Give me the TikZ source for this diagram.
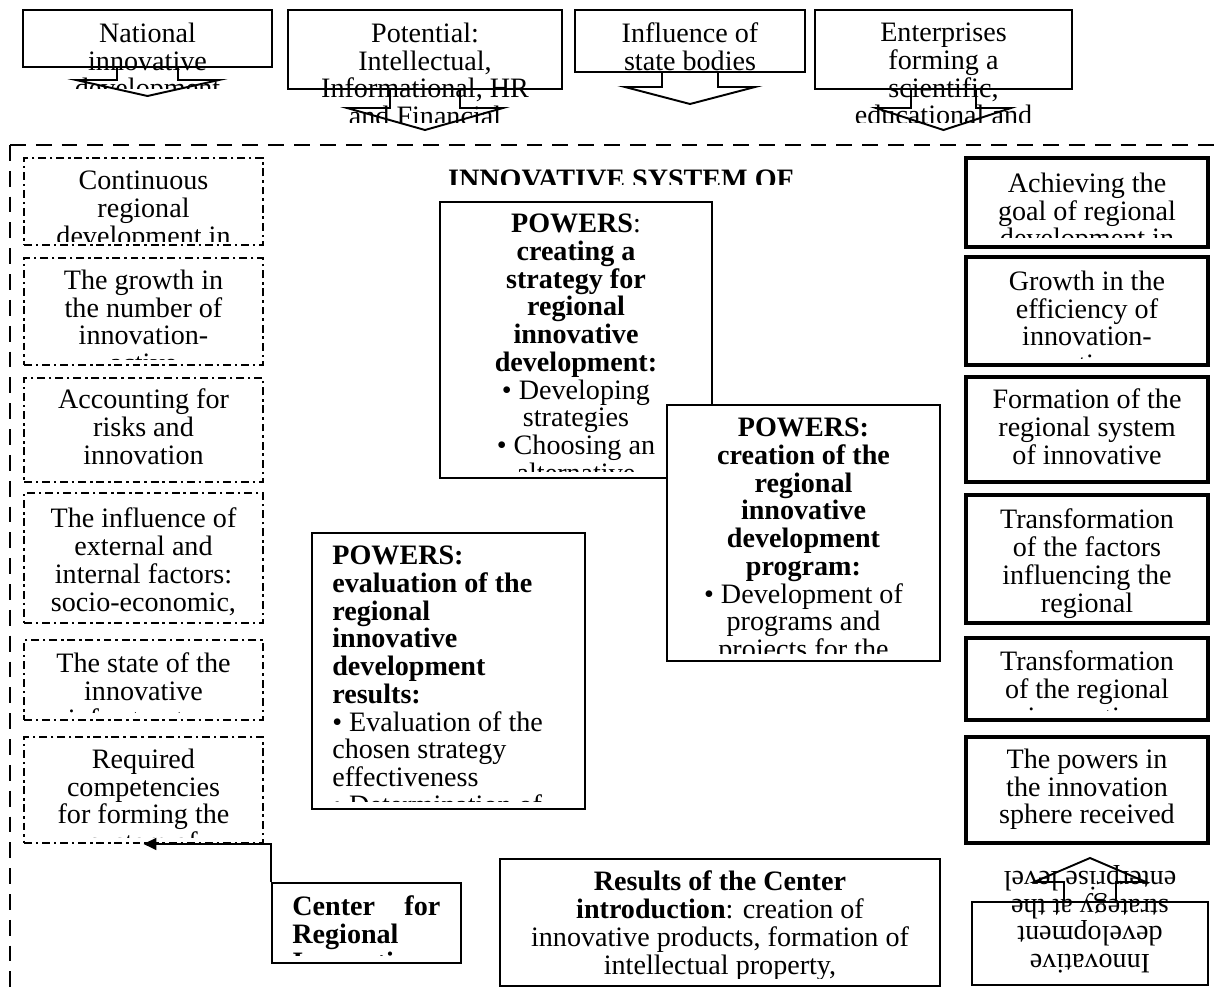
\documentclass[tikz,border=0pt]{standalone}
\usepackage{fontspec}
\setmainfont{Liberation Serif}
\usetikzlibrary{fit,arrows.meta}
\tikzset{
  plainbox/.style={draw,line width=1.1pt,inner sep=0pt},
  factorbox/.style={plainbox,dash pattern=on 4.5pt off 2.2pt on 1.4pt off 2.2pt},
  resultbox/.style={plainbox,line width=1.9pt},
  textbase/.style={inner sep=0pt,anchor=north,align=center,font=\fontsize{16pt}{15.8pt}\selectfont,execute at begin node=\strut},
  boxtext/.style={textbase,yshift=11.06pt},
  lefttext/.style={boxtext,anchor=north west,align=left},
  blockarrow/.style={line width=1.1pt,line join=miter},
  feedline/.style={line width=1.1pt,-{Triangle[length=2.6mm,width=2.4mm]}},
  systemframe/.style={line width=1.3pt,dash pattern=on 9pt off 5.7pt}
}
\begin{document}
\begin{tikzpicture}[x=0.02cm,y=-0.02cm]
\useasboundingbox (0,0) rectangle (1217,994);

% inputs at the top
\node[plainbox,fit={(23,10) (272,67)}] (natl) {};
\begin{scope}
  \clip (23,10) rectangle (272,88);
  \node[boxtext] (natlt) at (147.5,42) {National\\innovative\\development};
\end{scope}
\draw[blockarrow] (117,67) -- (117,80) -- (76,80) -- (147.5,96) -- (219,80) -- (178,80) -- (178,67);

\node[plainbox,fit={(288,10) (562,89)}] (potl) {};
\begin{scope}
  \clip (288,10) rectangle (562,122);
  \node[boxtext] (potlt) at (425,42) {Potential:\\Intellectual,\\Informational, HR\\and Financial};
\end{scope}
\draw[blockarrow] (390,89) -- (390,108) -- (347,108) -- (425,130) -- (503,108) -- (460,108) -- (460,89);

\node[plainbox,fit={(575,10) (805,72)}] (state) {};
\node[boxtext] (statet) at (690,42) {Influence of\\state bodies};
\draw[blockarrow] (662,72) -- (662,87) -- (625,87) -- (690,104) -- (755,87) -- (718,87) -- (718,72);

\node[plainbox,fit={(815,10) (1072,89)}] (entp) {};
\begin{scope}
  \clip (815,10) rectangle (1072,122);
  \node[boxtext] (entpt) at (943.5,42) {Enterprises\\forming a\\scientific,\\educational and};
\end{scope}
\draw[blockarrow] (911,89) -- (911,108) -- (876,108) -- (943.5,130) -- (1011,108) -- (976,108) -- (976,89);

% the system
\draw[systemframe] (10,145) -- (1217,145);
\draw[systemframe] (10,145) -- (10,994);
\begin{scope}
  \clip (420,150) rectangle (820,184);
  \node[boxtext] (title) at (621,188) {\textbf{INNOVATIVE SYSTEM OF}};
\end{scope}

% factors on the left
\node[factorbox,fit={(24,158) (263,245)}] (cont) {};
\begin{scope}
  \clip (24,158) rectangle (263,241);
  \node[boxtext] (contt) at (143.5,190) {Continuous\\regional\\development in};
\end{scope}
\node[factorbox,fit={(24,258) (263,365)}] (grow) {};
\begin{scope}
  \clip (24,258) rectangle (263,359);
  \node[boxtext] (growt) at (143.5,289) {The growth in\\the number of\\innovation-\\active};
\end{scope}
\node[factorbox,fit={(24,378) (263,482)}] (risk) {};
\begin{scope}
  \clip (24,378) rectangle (263,479);
  \node[boxtext] (riskt) at (143.5,408) {Accounting for\\risks and\\innovation};
\end{scope}
\node[factorbox,fit={(24,493) (263,623)}] (infl) {};
\begin{scope}
  \clip (24,493) rectangle (263,620);
  \node[boxtext] (inflt) at (143.5,527) {The influence of\\external and\\internal factors:\\socio-economic,};
\end{scope}
\node[factorbox,fit={(24,640) (263,720)}] (infra) {};
\begin{scope}
  \clip (24,640) rectangle (263,712);
  \node[boxtext] (infrat) at (143.5,672) {The state of the\\innovative\\infrastructure};
\end{scope}
\node[factorbox,fit={(24,737) (263,843)}] (req) {};
\begin{scope}
  \clip (24,737) rectangle (263,837);
  \node[boxtext] (reqt) at (143.5,768) {Required\\competencies\\for forming the\\system of};
\end{scope}

% powers
\node[plainbox,fit={(440,202) (712,478)}] (strat) {};
\begin{scope}
  \clip (440,202) rectangle (712,471);
  \node[boxtext] (stratt) at (576,233) {\textbf{POWERS}:\\\textbf{creating a}\\\textbf{strategy for}\\\textbf{regional}\\\textbf{innovative}\\\textbf{development:}\\• Developing\\strategies\\• Choosing an\\alternative};
\end{scope}
\node[plainbox,fill=white,fit={(667,405) (940,661)}] (prog) {};
\begin{scope}
  \clip (667,405) rectangle (940,653);
  \node[boxtext] (progt) at (803.5,437) {\textbf{POWERS:}\\\textbf{creation of the}\\\textbf{regional}\\\textbf{innovative}\\\textbf{development}\\\textbf{program:}\\• Development of\\programs and\\projects for the};
\end{scope}
\node[plainbox,fit={(312,533) (585,809)}] (eval) {};
\begin{scope}
  \clip (312,533) rectangle (585,801);
  \node[lefttext] (evalt) at (332,565) {\textbf{POWERS:}\\\textbf{evaluation of the}\\\textbf{regional}\\\textbf{innovative}\\\textbf{development}\\\textbf{results:}\\• Evaluation of the\\chosen strategy\\effectiveness\\• Determination of};
\end{scope}

% center and its results
\node[plainbox,fit={(272,883) (461,963)}] (ctr) {};
\begin{scope}
  \clip (272,883) rectangle (461,955);
  \node[lefttext] (ctrt) at (292,915) {\makebox[2.96cm]{\textbf{Center}\hfill\textbf{for}}\\\textbf{Regional}\\\textbf{Innovative}};
\end{scope}
\draw[feedline] (ctr.north west) |- (req.south);
\node[plainbox,fit={(500,859) (940,986)}] (res) {};
\begin{scope}
  \clip (500,859) rectangle (940,978);
  \node[boxtext] (rest) at (720,890) {\textbf{Results of the Center}\\\textbf{introduction}: creation of\\innovative products, formation of\\intellectual property,};
\end{scope}

% outcomes on the right
\node[resultbox,fit={(966,158) (1208,247)}] (goal) {};
\begin{scope}
  \clip (966,158) rectangle (1208,237);
  \node[boxtext] (goalt) at (1087,192) {Achieving the\\goal of regional\\development in};
\end{scope}
\node[resultbox,fit={(966,257) (1208,365)}] (effc) {};
\begin{scope}
  \clip (966,257) rectangle (1208,358);
  \node[boxtext] (effct) at (1087,290) {Growth in the\\efficiency of\\innovation-\\active};
\end{scope}
\node[resultbox,fit={(966,377) (1208,482)}] (form) {};
\begin{scope}
  \clip (966,377) rectangle (1208,478);
  \node[boxtext] (formt) at (1087,408) {Formation of the\\regional system\\of innovative};
\end{scope}
\node[resultbox,fit={(966,495) (1208,623)}] (trfa) {};
\begin{scope}
  \clip (966,495) rectangle (1208,619);
  \node[boxtext] (trfat) at (1087,528) {Transformation\\of the factors\\influencing the\\regional};
\end{scope}
\node[resultbox,fit={(966,638) (1208,720)}] (trre) {};
\begin{scope}
  \clip (966,638) rectangle (1208,710);
  \node[boxtext] (trret) at (1087,670) {Transformation\\of the regional\\innovative};
\end{scope}
\node[resultbox,fit={(966,737) (1208,843)}] (powr) {};
\begin{scope}
  \clip (966,737) rectangle (1208,839);
  \node[boxtext] (powrt) at (1087,768) {The powers in\\the innovation\\sphere received};
\end{scope}

% enterprise strategy, turned upside down
\node[plainbox,fit={(972,902) (1208,985)}] (entst) {};
\begin{scope}
  \clip (972,862) rectangle (1208,985);
  \node[textbase,rotate=180] (entstt) at (1090,973.5) {Innovative\\development\\strategy at the\\enterprise level};
\end{scope}
\draw[blockarrow] (1064,902) -- (1064,882) -- (1034,882) -- (1090,858) -- (1146,882) -- (1116,882) -- (1116,902);
\end{tikzpicture}
\end{document}
